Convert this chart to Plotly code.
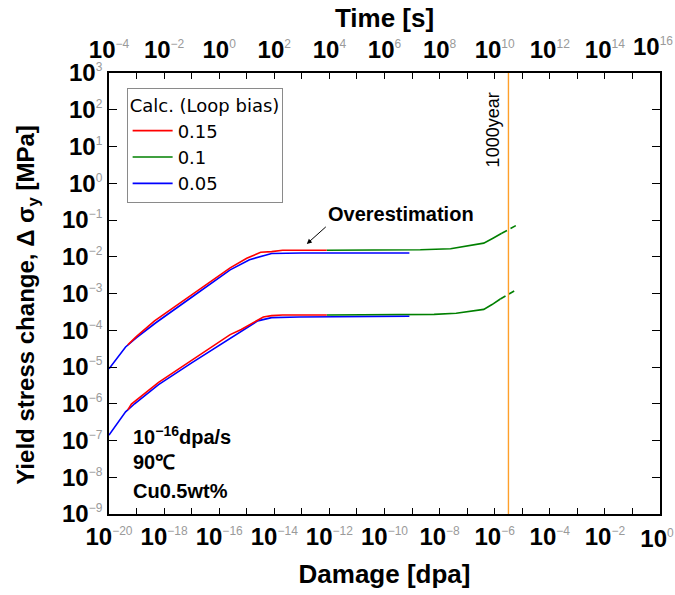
import plotly.graph_objects as go

# ---------------- data ----------------
# Upper group (Δσy), damage [dpa]
dmg_up_red = [4.8e-20, 1.0e-19, 4.5e-19, 1.0e-17, 2.5e-16, 1.0e-15, 3.2e-15, 8.0e-15, 2.0e-14, 8.0e-13]
sig_up_red = [4.0e-5, 6.8e-5, 1.8e-4, 9.3e-4, 5.0e-3, 9.1e-3, 1.32e-2, 1.38e-2, 1.5e-2, 1.5e-2]

dmg_up_blue = [1.0e-20, 4.0e-20, 1.0e-19, 5.0e-19, 1.0e-17, 2.5e-16, 1.26e-15, 8.0e-15, 1.0e-13, 8.0e-10]
sig_up_blue = [8.9e-6, 3.5e-5, 6.3e-5, 1.6e-4, 7.9e-4, 4.4e-3, 8.3e-3, 1.23e-2, 1.26e-2, 1.26e-2]

dmg_up_green = [8.0e-13, 2.0e-9, 2.5e-8, 4.0e-7, 9.0e-7, 1.8e-6]
sig_up_green = [1.5e-2, 1.55e-2, 1.65e-2, 2.35e-2, 3.25e-2, 4.35e-2]
dmg_up_green_ext = [1.8e-6, 6.0e-6]
sig_up_green_ext = [4.35e-2, 7.1e-2]

# Lower group
dmg_lo_red = [4.8e-20, 6.5e-20, 6.3e-19, 1.0e-17, 2.5e-16, 6.3e-16, 4.0e-15, 8.0e-15, 2.0e-14, 8.0e-13]
sig_lo_red = [6.8e-7, 9.8e-7, 3.8e-6, 1.5e-5, 7.6e-5, 1.05e-4, 2.3e-4, 2.5e-4, 2.6e-4, 2.6e-4]

dmg_lo_blue = [1.0e-20, 4.0e-20, 8.5e-20, 6.3e-19, 1.0e-17, 5.6e-16, 2.5e-15, 8.0e-15, 8.0e-14, 8.0e-10]
sig_lo_blue = [1.4e-7, 6.0e-7, 1.0e-6, 3.3e-6, 1.3e-5, 9.1e-5, 1.8e-4, 2.2e-4, 2.3e-4, 2.4e-4]

dmg_lo_green = [8.0e-13, 6.3e-9, 4.0e-8, 4.0e-7, 8.0e-7, 1.6e-6]
sig_lo_green = [2.6e-4, 2.7e-4, 2.9e-4, 3.7e-4, 5.0e-4, 7.1e-4]
dmg_lo_green_ext = [1.6e-6, 6.0e-6]
sig_lo_green_ext = [7.1e-4, 1.26e-3]

# 1000 years in seconds (top time axis)
time_1000y = [3.156e10, 3.156e10]
sig_range = [1e-9, 1e3]

# tick labels (exponents)
x_exps = [-20, -18, -16, -14, -12, -10, -8, -6, -4, -2]
x_last = 0
t_exps = [-4, -2, 0, 2, 4, 6, 8, 10, 12, 14]
t_last = 16
y_exps = [3, 2, 1, 0, -1, -2, -3, -4, -5, -6, -7, -8, -9]

legend_names = ["0.15", "0.1", "0.05"]

# ---------------- styling ----------------
FONT = "Liberation Sans, Arial, sans-serif"
RED, GREEN, BLUE, ORANGE = "#FF0000", "#008000", "#0000FF", "#FF9F2A"
LW = 1.6
TICKSIZE = 24


def lab(e):
    s = str(e).replace("-", "\u2212")
    return ("<b>10</b><sup><span style='font-size:12px;color:#9a9a9a'>%s</span></sup>" % s)


def decade_ticks(lo, hi, labelled):
    vals, texts = [], []
    for k in range(lo, hi + 1):
        vals.append(10.0 ** k)
        texts.append(lab(k) if k in labelled else "")
    return vals, texts


xv, xt = decade_ticks(-20, 0, x_exps)
tv, tt = decade_ticks(-4, 16, t_exps)
yv, yt = decade_ticks(-9, 3, y_exps)

fig = go.Figure()

# green (0.1)
fig.add_trace(go.Scatter(x=dmg_up_green, y=sig_up_green, mode="lines", name=legend_names[1],
                         line=dict(color=GREEN, width=LW), legendrank=2, showlegend=True))
fig.add_trace(go.Scatter(x=dmg_lo_green, y=sig_lo_green, mode="lines", showlegend=False,
                         line=dict(color=GREEN, width=LW)))
fig.add_trace(go.Scatter(x=dmg_up_green_ext, y=sig_up_green_ext, mode="lines", showlegend=False,
                         line=dict(color=GREEN, width=LW, dash="6px,4px")))
fig.add_trace(go.Scatter(x=dmg_lo_green_ext, y=sig_lo_green_ext, mode="lines", showlegend=False,
                         line=dict(color=GREEN, width=LW, dash="6px,4px")))
# blue (0.05)
fig.add_trace(go.Scatter(x=dmg_up_blue, y=sig_up_blue, mode="lines", name=legend_names[2],
                         line=dict(color=BLUE, width=LW), legendrank=3, showlegend=True))
fig.add_trace(go.Scatter(x=dmg_lo_blue, y=sig_lo_blue, mode="lines", showlegend=False,
                         line=dict(color=BLUE, width=LW)))
# red (0.15)
fig.add_trace(go.Scatter(x=dmg_up_red, y=sig_up_red, mode="lines", name=legend_names[0],
                         line=dict(color=RED, width=LW), legendrank=1, showlegend=True))
fig.add_trace(go.Scatter(x=dmg_lo_red, y=sig_lo_red, mode="lines", showlegend=False,
                         line=dict(color=RED, width=LW)))
# 1000 year line on time axis
fig.add_trace(go.Scatter(x=time_1000y, y=sig_range, mode="lines", showlegend=False,
                         xaxis="x2", yaxis="y", line=dict(color=ORANGE, width=1.4)))
# empty traces so the edge-label axes get drawn
fig.add_trace(go.Scatter(x=[], y=[], mode="lines", showlegend=False, hoverinfo="skip",
                         xaxis="x3", yaxis="y"))
fig.add_trace(go.Scatter(x=[], y=[], mode="lines", showlegend=False, hoverinfo="skip",
                         xaxis="x4", yaxis="y"))

axis_common = dict(type="log", ticks="inside", ticklen=6, tickwidth=1.2, tickcolor="black",
                   showgrid=False, zeroline=False, showline=True, linecolor="black", linewidth=1.6,
                   ticklabeloverflow="allow", automargin=False,
                   tickfont=dict(family=FONT, size=TICKSIZE, color="black"))
label_only = dict(type="log", ticks="", showgrid=False, zeroline=False, showline=False,
                  ticklabeloverflow="allow", automargin=False, tickmode="array",
                  tickfont=dict(family=FONT, size=TICKSIZE, color="black"))

fig.update_layout(
    width=675, height=595,
    margin=dict(l=109, r=15, t=73, b=81),
    paper_bgcolor="white", plot_bgcolor="white",
    font=dict(family=FONT, color="black"),
    xaxis=dict(range=[-20, 0], tickmode="array", tickvals=xv, ticktext=xt, mirror=True,
               title=dict(text="<b>Damage [dpa]</b>", font=dict(family=FONT, size=26), standoff=16),
               **axis_common),
    xaxis2=dict(range=[-4, 16], overlaying="x", side="top", anchor="y", tickmode="array",
                tickvals=tv, ticktext=tt, ticklabelstandoff=4,
                title=dict(text="<b>Time [s]</b>", font=dict(family=FONT, size=26), standoff=0),
                **axis_common),
    # last labels at the right edge, nudged inward so they stay in the page
    xaxis3=dict(range=[-20, 0], overlaying="x", side="bottom", anchor="y", ticklabelstandoff=8,
                tickvals=[10.0 ** x_last], ticktext=[lab(x_last)], ticklabelshift=-3, **label_only),
    xaxis4=dict(range=[-4, 16], overlaying="x", side="top", anchor="y", ticklabelstandoff=12,
                tickvals=[10.0 ** t_last], ticktext=[lab(t_last)], ticklabelshift=-7, **label_only),
    yaxis=dict(range=[-9, 3], tickmode="array", tickvals=yv, ticktext=yt, mirror="ticks",
               **{**axis_common, "ticklen": 8}),
    legend=dict(x=0.032, y=0.966, xanchor="left", yanchor="top",
                bordercolor="#8a8a8a", borderwidth=1, bgcolor="white",
                font=dict(family="DejaVu Sans, Liberation Sans, sans-serif", size=18),
                title=dict(text="Calc. (Loop bias)",
                           font=dict(family="DejaVu Sans, Liberation Sans, sans-serif", size=18)),
                tracegroupgap=0, itemwidth=40),
    showlegend=True,
)

# y-axis title
fig.add_annotation(x=-0.147, y=0.4745, xref="paper", yref="paper", xanchor="center", yanchor="middle",
                   text="<b>Yield stress change, \u0394 \u03c3<sub>y</sub> [MPa]</b>", textangle=-90,
                   showarrow=False, font=dict(family=FONT, size=24, color="black"))

ann_font = dict(family=FONT, size=20, color="black")
fig.add_annotation(x=-12.82, y=-1.65, xref="x", yref="y", text="<b>Overestimation</b>",
                   showarrow=True, arrowhead=2, arrowsize=1, arrowwidth=1, arrowcolor="black",
                   axref="pixel", ayref="pixel", ax=19, ay=-17, xanchor="left", yanchor="bottom",
                   font=ann_font)
fig.add_annotation(x=0.04, y=0.178, xref="paper", yref="paper", xanchor="left", yanchor="middle",
                   text="<b>10<sup>\u221216</sup>dpa/s</b>", showarrow=False, font=ann_font)
fig.add_annotation(x=0.04, y=0.117, xref="paper", yref="paper", xanchor="left", yanchor="middle",
                   text="<b>90\u2103</b>", showarrow=False, font=ann_font)
fig.add_annotation(x=0.04, y=0.053, xref="paper", yref="paper", xanchor="left", yanchor="middle",
                   text="<b>Cu0.5wt%</b>", showarrow=False, font=ann_font)
fig.add_annotation(x=0.697, y=0.87, xref="paper", yref="paper", xanchor="center", yanchor="middle",
                   text="1000year", textangle=-90, showarrow=False,
                   font=dict(family=FONT, size=18, color="black"))

fig.write_html("out.html")
